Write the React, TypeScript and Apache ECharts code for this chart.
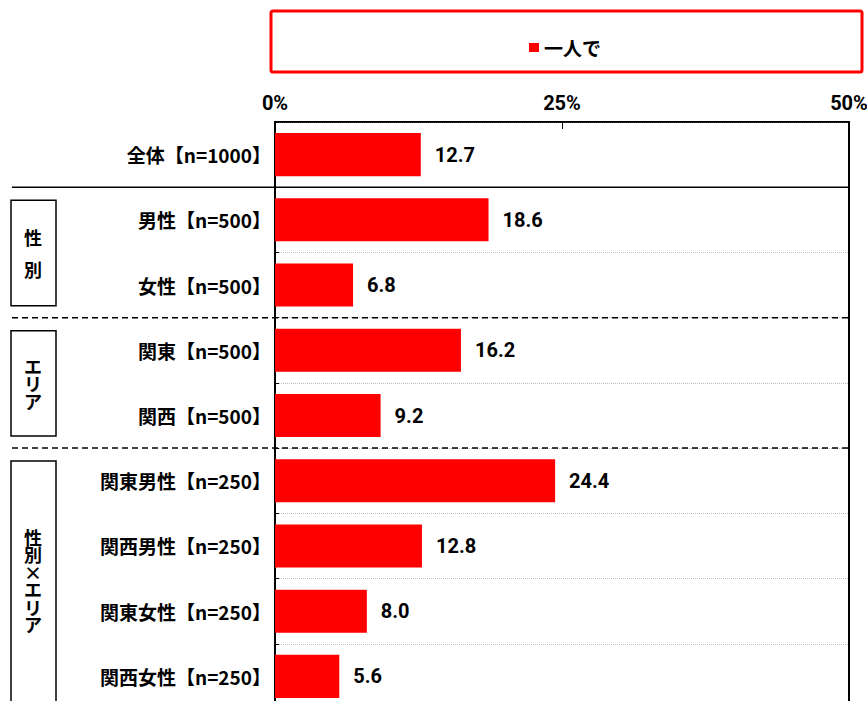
import React, { useEffect, useRef } from "react";
import * as echarts from "echarts";

const categories = [
  "全体【n=1000】",
  "男性【n=500】",
  "女性【n=500】",
  "関東【n=500】",
  "関西【n=500】",
  "関東男性【n=250】",
  "関西男性【n=250】",
  "関東女性【n=250】",
  "関西女性【n=250】",
];
const values = [12.7, 18.6, 6.8, 16.2, 9.2, 24.4, 12.8, 8.0, 5.6];
const seriesName = "一人で";
const xTicks = [0, 25, 50];
const groupLabels = ["性\n別", "エ\nリ\nア", "性\n別\n×\nエ\nリ\nア"];
const groupRanges = [
  [1, 2],
  [3, 4],
  [5, 8],
];
const separatorAfter = [0, 2, 4];
const separatorTypes = ["solid", "dashed", "dashed"];

const JP = '"Noto Sans CJK JP", "Noto Sans CJK SC", sans-serif';
const NUM = 'Roboto, "Liberation Sans", Arial, sans-serif';

export default function App() {
  const ref = useRef<HTMLDivElement>(null);
  useEffect(() => {
    if (!ref.current) return;
    const chart = echarts.init(ref.current, null, { renderer: "svg" });
    chart.setOption({
      animation: false,
      backgroundColor: "#fff",
      legend: {
        data: [seriesName],
        left: 524,
        top: 33,
        icon: "rect",
        itemWidth: 10,
        itemHeight: 9,
        itemGap: 4,
        textStyle: { fontFamily: JP, fontWeight: "bold", fontSize: 19, color: "#000" },
      },
      grid: {
        left: 275,
        right: 18,
        top: 122,
        bottom: -8,
        show: true,
        borderColor: "#000",
        borderWidth: 2,
        backgroundColor: "transparent",
        outerBoundsMode: "none",
      },
      xAxis: {
        type: "value",
        position: "top",
        min: xTicks[0],
        max: xTicks[xTicks.length - 1],
        interval: 25,
        axisLine: { show: true, lineStyle: { color: "#000", width: 1.5 } },
        axisTick: { show: true, inside: true, length: 7, lineStyle: { color: "#000", width: 1 } },
        splitLine: { show: false },
        axisLabel: {
          formatter: (v: number) => v + "%",
          fontFamily: NUM,
          fontWeight: "bold",
          fontSize: 20,
          color: "#000",
          margin: 9,
        },
      },
      yAxis: {
        type: "category",
        inverse: true,
        data: categories,
        axisLine: { show: true, lineStyle: { color: "#000", width: 2 } },
        axisTick: { show: true, inside: true, length: 4, lineStyle: { color: "#000", width: 1 } },
        splitLine: { show: true, lineStyle: { color: "#bbb", type: "dotted", width: 1 } },
        axisLabel: {
          fontFamily: JP,
          fontWeight: "bold",
          fontSize: 19,
          color: "#000",
          margin: 4,
        },
      },
      series: [
        {
          name: seriesName,
          type: "bar",
          data: values,
          barCategoryGap: "34%",
          itemStyle: { color: "#FF0000" },
          label: {
            show: true,
            position: "right",
            distance: 14,
            formatter: (p: any) => Number(p.value).toFixed(1),
            fontFamily: NUM,
            fontWeight: "bold",
            fontSize: 20,
            color: "#000",
          },
        },
      ],
    });

    const yPix = (i: number) => chart.convertToPixel({ yAxisIndex: 0 }, categories[i]) as number;
    const boundary = (i: number) => (yPix(i) + yPix(i + 1)) / 2;
    const xRight = chart.convertToPixel({ xAxisIndex: 0 }, xTicks[xTicks.length - 1]) as number;
    const step = yPix(1) - yPix(0);

    const graphics: any[] = [];
    graphics.push({
      type: "rect",
      shape: { x: 271, y: 11, width: 591, height: 61, r: 2 },
      style: { fill: "none", stroke: "#FF0000", lineWidth: 3 },
      z: 10,
    });
    separatorAfter.forEach((idx, k) => {
      const y = boundary(idx);
      graphics.push({
        type: "line",
        shape: { x1: 12, y1: y, x2: xRight, y2: y },
        style: {
          stroke: "#000",
          lineWidth: 1.5,
          lineDash: separatorTypes[k] === "dashed" ? [6, 4] : null,
        },
        z: 10,
      });
    });
    groupRanges.forEach(([a, b], k) => {
      const top = yPix(a) - step / 2 + 13;
      const isLast = k === groupRanges.length - 1;
      const bottom = isLast ? 730 : yPix(b) + step / 2 - 12;
      graphics.push({
        type: "rect",
        shape: { x: 11, y: top, width: 45, height: bottom - top },
        style: { fill: "#fff", stroke: "#000", lineWidth: 1.5 },
        z: 10,
      });
      const chars = groupLabels[k].split("\n");
      const lh = chars.length === 2 ? 32 : 17.5;
      const center = isLast ? (yPix(a) + yPix(b)) / 2 + 2 : (top + bottom) / 2;
      chars.forEach((ch, j) => {
        graphics.push({
          type: "text",
          x: 33,
          y: center + (j - (chars.length - 1) / 2) * lh,
          style: {
            text: ch,
            align: "center",
            verticalAlign: "middle",
            fontFamily: JP,
            fontWeight: "bold",
            fontSize: 18,
            fill: "#000",
          },
          z: 11,
        });
      });
    });
    chart.setOption({ graphic: graphics });

    return () => chart.dispose();
  }, []);
  return (
    <div
      ref={ref}
      style={{ position: "fixed", left: 0, top: 0, width: 867, height: 701, overflow: "hidden" }}
    />
  );
}
